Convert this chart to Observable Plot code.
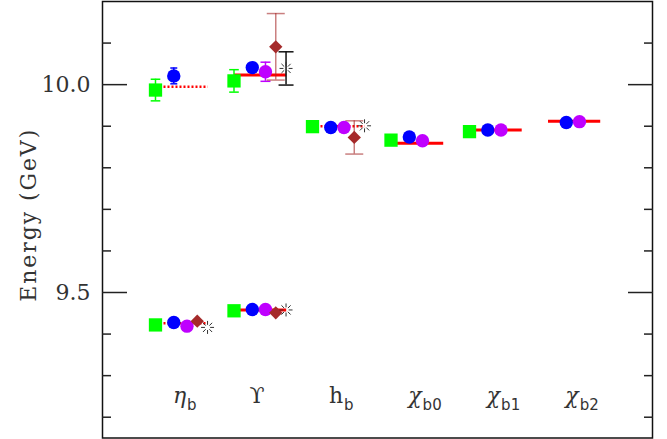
<!DOCTYPE html>
<html><head><meta charset="utf-8">
<script src="https://cdn.jsdelivr.net/npm/d3@7"></script>
<script src="https://cdn.jsdelivr.net/npm/@observablehq/plot@0.6"></script>
<style>body{margin:0;background:#fff} svg{display:block}</style>
</head><body><div id="chart"></div>
<script>
// ---- data ----
const states = ["η_b(1S)","ϒ(1S)","η_b(2S)","ϒ(2S)","h_b","χ_b0","χ_b1","χ_b2"];
const stateColumn = [0, 1, 0, 1, 2, 3, 4, 5];
const columnLabels = ["η", "ϒ", "h", "χ", "χ", "χ"];
const columnSubs = ["b", "", "b", "b0", "b1", "b2"];
const experiment = [9.426, 9.458, 9.995, 10.023, 9.8997, 9.859, 9.891, 9.912];
const experimentDotted = [true, false, true, false, true, false, false, false];
const squares = [9.422, 9.456, 9.987, 10.009, 9.899, 9.8665, 9.887, null];
const squaresErr = [0, 0, 0.026, 0.027, 0, 0.004, 0, 0];
const blueCircles = [9.428, 9.459, 10.021, 10.041, 9.897, 9.874, 9.891, 9.909];
const blueErr = [0, 0, 0.019, 0, 0, 0, 0, 0];
const violetCircles = [9.419, 9.459, null, 10.031, 9.897, 9.865, 9.891, 9.911];
const violetErr = [0, 0, 0, 0.023, 0, 0, 0, 0];
const diamonds = [9.431, 9.451, null, 10.091, 9.873, null, null, null];
const diamondErr = [0, 0, 0, 0.08, 0.04, 0, 0, 0];
const bursts = [9.416, 9.458, null, 10.039, 9.901, null, null, null];
const burstErr = [0, 0, 0, 0.04, 0, 0, 0, 0];
const yMajorTicks = [9.5, 10.0];
const yMinorTicks = [9.2, 9.3, 9.4, 9.6, 9.7, 9.8, 9.9, 10.1];
const yLabel = "Energy (GeV)";

// ---- layout helpers ----
const offsets = {square: 0, blue: 0.233, violet: 0.401, diamond: 0.532, burst: 0.663};
const lineSpan = 0.665;
function rows(values, errs, off) {
  return states.map((s, i) => ({state: s, x: stateColumn[i] + off, y: values[i], err: errs ? errs[i] : 0}))
    .filter(d => d.y != null);
}
const sqRows = rows(squares, squaresErr, offsets.square);
const blRows = rows(blueCircles, blueErr, offsets.blue);
const viRows = rows(violetCircles, violetErr, offsets.violet);
const diRows = rows(diamonds, diamondErr, offsets.diamond);
const buRows = rows(bursts, burstErr, offsets.burst);
const expRows = states.map((s, i) => ({state: s, x1: stateColumn[i], x2: stateColumn[i] + lineSpan, y: experiment[i], dotted: experimentDotted[i]}));

const capSymbol = {draw(ctx, size) { const w = Math.sqrt(size / Math.PI); ctx.moveTo(-w, 0); ctx.lineTo(w, 0); }};
const burstSymbol = {draw(ctx, size) {
  const r = Math.sqrt(size / Math.PI);
  for (let k = 0; k < 8; k++) {
    const a = k * Math.PI / 4;
    ctx.moveTo(Math.cos(a) * r * 0.4, Math.sin(a) * r * 0.4);
    ctx.lineTo(Math.cos(a) * r, Math.sin(a) * r);
  }
}};

function errMarks(rs, color, half, extra = {}) {
  const e = rs.filter(d => d.err > 0);
  const caps = e.flatMap(d => [{x: d.x, y: d.y - d.err}, {x: d.x, y: d.y + d.err}]);
  return [
    Plot.ruleX(e, {x: "x", y1: d => d.y - d.err, y2: d => d.y + d.err, stroke: color, strokeWidth: 1.5, ...extra}),
    Plot.dot(caps, {x: "x", y: "y", symbol: capSymbol, r: half, stroke: color, fill: "none", strokeWidth: 1.5, ...extra})
  ];
}

const cols = columnLabels.map((l, i) => ({i, main: l, sub: columnSubs[i], italic: l === "η" || l === "χ"}));
const serif = "DejaVu Serif";

const chart = Plot.plot({
  width: 667, height: 439,
  marginLeft: 102, marginRight: 15, marginTop: 1, marginBottom: 1.5,
  x: {type: "linear", domain: [-0.675, 6.331], axis: null},
  y: {domain: [9.15, 10.2], axis: null},
  marks: [
    Plot.link(expRows.filter(d => !d.dotted), {x1: "x1", x2: "x2", y1: "y", y2: "y", stroke: "#ff0000", strokeWidth: 3}),
    Plot.link(expRows.filter(d => d.dotted), {x1: "x1", x2: "x2", y1: "y", y2: "y", stroke: "#ff0000", strokeWidth: 2.5, strokeDasharray: "2,2"}),
    ...errMarks(sqRows, "#00ff00", 4.8),
    ...errMarks(blRows, "#0000ff", 3.5),
    ...errMarks(viRows, "#bf00ff", 5),
    ...errMarks(diRows, "#a52a2a", 9, {strokeOpacity: 0.6}),
    ...errMarks(buRows, "#111", 7.5),
    Plot.dot(sqRows, {x: "x", y: "y", symbol: "square", r: 7.5, fill: "#00ff00"}),
    Plot.dot(blRows, {x: "x", y: "y", symbol: "circle", r: 6.7, fill: "#0000ff"}),
    Plot.dot(viRows, {x: "x", y: "y", symbol: "circle", r: 6.7, fill: "#bf00ff"}),
    Plot.dot(diRows, {x: "x", y: "y", symbol: "diamond2", r: 6, fill: "#a52a2a"}),
    Plot.dot(buRows, {x: "x", y: "y", symbol: burstSymbol, r: 6.5, stroke: "#333", fill: "none", strokeWidth: 1}),
    Plot.frame({stroke: "#111", strokeWidth: 1.5}),
    Plot.axisY(yMajorTicks, {anchor: "left", tickSize: -25, tickFormat: () => "", stroke: "#222", strokeWidth: 1.5, label: null}),
    Plot.axisY(yMinorTicks, {anchor: "left", tickSize: -9, tickFormat: () => "", stroke: "#222", strokeWidth: 1.5, label: null}),
    Plot.axisY(yMajorTicks, {anchor: "right", tickSize: -25, tickFormat: () => "", stroke: "#222", strokeWidth: 1.5, label: null}),
    Plot.axisY(yMinorTicks, {anchor: "right", tickSize: -9, tickFormat: () => "", stroke: "#222", strokeWidth: 1.5, label: null}),
    Plot.axisY(yMajorTicks, {anchor: "left", tickSize: 0, tickPadding: 12, tickFormat: d3.format(".1f"), fontFamily: serif, fontSize: 22, fill: "#333", label: null}),
    Plot.text([yLabel], {text: d => d, frameAnchor: "left", rotate: -90, textAnchor: "start", dx: -74, dy: 82, fontFamily: serif, fontSize: 22, fill: "#333"}),
    Plot.text(cols.filter(d => d.italic), {x: d => d.i + 0.39, text: "main", frameAnchor: "bottom", lineAnchor: "bottom", textAnchor: "end", dy: -35.5, fontFamily: serif, fontStyle: "italic", fontSize: 22, fill: "#333"}),
    Plot.text(cols.filter(d => !d.italic), {x: d => d.i + 0.39, text: "main", frameAnchor: "bottom", lineAnchor: "bottom", textAnchor: "end", dy: -35.5, fontFamily: serif, fontSize: 22, fill: "#333"}),
    Plot.text(cols, {x: d => d.i + 0.39, text: "sub", frameAnchor: "bottom", lineAnchor: "bottom", textAnchor: "start", dx: 1, dy: -28.5, fontFamily: "DejaVu Sans", fontSize: 15, fill: "#333"})
  ]
});
document.getElementById("chart").append(chart);
d3.select(chart).selectAll("text").filter(function() { return this.textContent === yLabel; })
  .attr("textLength", 172).attr("lengthAdjust", "spacing");
</script>
</body></html>
